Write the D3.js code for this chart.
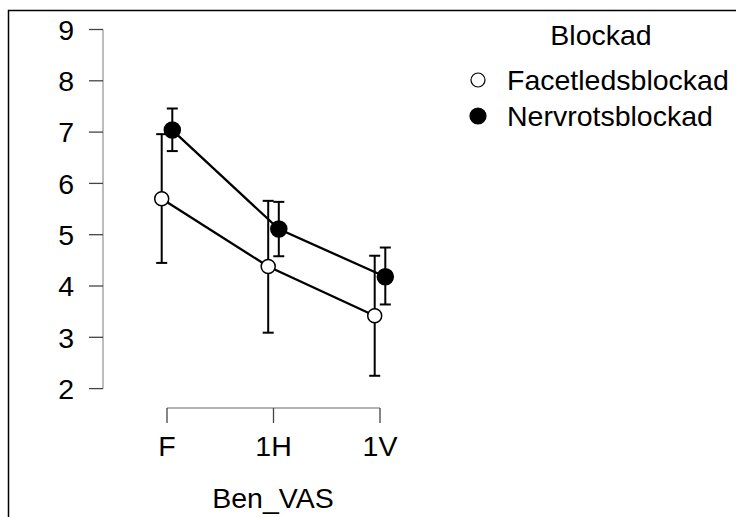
<!DOCTYPE html>
<html>
<head>
<meta charset="utf-8">
<script src="https://cdn.jsdelivr.net/npm/d3@7"></script>
<style>
  body { margin: 0; background: #fff; }
  svg { display: block; font-family: Arial, "Liberation Sans", sans-serif; }
</style>
</head>
<body>
<div id="chart"></div>
<script>
// --- DONNEES ---
const categories = ["F", "1H", "1V"];
const yTicks = [2, 3, 4, 5, 6, 7, 8, 9];
const seriesNames = ["Facetledsblockad", "Nervrotsblockad"];
const facetMean = [5.70, 4.38, 3.42];
const facetLower = [4.45, 3.09, 2.25];
const facetUpper = [6.96, 5.66, 4.59];
const nervMean = [7.04, 5.11, 4.18];
const nervLower = [6.63, 4.58, 3.64];
const nervUpper = [7.46, 5.64, 4.75];

const width = 736, height = 517;
const fontSize = 28.5;

const svg = d3.select("#chart").append("svg")
    .attr("width", width)
    .attr("height", height);

// cadre (seulement haut et gauche visibles)
svg.append("rect")
    .attr("x", 8.5).attr("y", 10.5)
    .attr("width", 760).attr("height", 540)
    .attr("fill", "none")
    .attr("stroke", "#000")
    .attr("stroke-width", 1.5);

const x = d3.scalePoint().domain(categories).range([167, 380]);
const y = d3.scaleLinear().domain([2, 9]).range([388.6, 29.5]);
const dodge = 5.3;

const series = [
    {name: seriesNames[0], mean: facetMean, lo: facetLower, hi: facetUpper, fill: "#fff", dx: -dodge, r: 7},
    {name: seriesNames[1], mean: nervMean, lo: nervLower, hi: nervUpper, fill: "#000", dx: dodge, r: 8}
];

// --- AXE Y ---
const yAxis = svg.append("g");
yAxis.append("line")
    .attr("x1", 103).attr("x2", 103)
    .attr("y1", y(2)).attr("y2", y(9))
    .attr("stroke", "#9a9a9a").attr("stroke-width", 1.3);
yAxis.selectAll(".ytick")
    .data(yTicks)
    .join("line")
    .attr("class", "ytick")
    .attr("x1", 89).attr("x2", 103)
    .attr("y1", d => y(d)).attr("y2", d => y(d))
    .attr("stroke", "#444").attr("stroke-width", 1.3);
yAxis.selectAll(".ylab")
    .data(yTicks)
    .join("text")
    .attr("class", "ylab")
    .attr("x", 74)
    .attr("y", d => y(d))
    .attr("dy", "0.36em")
    .attr("text-anchor", "end")
    .attr("font-size", fontSize)
    .text(d => d);

// --- AXE X ---
const xAxis = svg.append("g");
xAxis.append("line")
    .attr("x1", x(categories[0])).attr("x2", x(categories[categories.length - 1]))
    .attr("y1", 408).attr("y2", 408)
    .attr("stroke", "#9a9a9a").attr("stroke-width", 1.3);
xAxis.selectAll(".xtick")
    .data(categories)
    .join("line")
    .attr("class", "xtick")
    .attr("x1", d => x(d)).attr("x2", d => x(d))
    .attr("y1", 408).attr("y2", 423)
    .attr("stroke", "#444").attr("stroke-width", 1.3);
xAxis.selectAll(".xlab")
    .data(categories)
    .join("text")
    .attr("class", "xlab")
    .attr("x", d => x(d))
    .attr("y", 456)
    .attr("text-anchor", "middle")
    .attr("font-size", fontSize)
    .text(d => d);
svg.append("text")
    .attr("x", 273).attr("y", 508)
    .attr("text-anchor", "middle")
    .attr("font-size", fontSize)
    .text("Ben_VAS");

// --- BARRES D'ERREUR ---
const cap = 5.5;
series.forEach(s => {
    const g = svg.append("g");
    categories.forEach((c, i) => {
        const cx = x(c) + s.dx;
        g.append("line")
            .attr("x1", cx).attr("x2", cx)
            .attr("y1", y(s.lo[i])).attr("y2", y(s.hi[i]))
            .attr("stroke", "#000").attr("stroke-width", 2);
        [s.lo[i], s.hi[i]].forEach(v => {
            g.append("line")
                .attr("x1", cx - cap).attr("x2", cx + cap)
                .attr("y1", y(v)).attr("y2", y(v))
                .attr("stroke", "#000").attr("stroke-width", 2);
        });
    });
});

// --- LIGNES ---
series.forEach(s => {
    svg.append("path")
        .datum(categories.map((c, i) => [x(c) + s.dx, y(s.mean[i])]))
        .attr("fill", "none")
        .attr("stroke", "#000")
        .attr("stroke-width", 2.3)
        .attr("d", d3.line());
});

// --- POINTS ---
series.forEach(s => {
    svg.append("g").selectAll("circle")
        .data(categories)
        .join("circle")
        .attr("cx", (c) => x(c) + s.dx)
        .attr("cy", (c, i) => y(s.mean[i]))
        .attr("r", s.r)
        .attr("fill", s.fill)
        .attr("stroke", "#000")
        .attr("stroke-width", 1.5);
});

// --- LEGENDE ---
const legend = svg.append("g");
legend.append("text")
    .attr("x", 601).attr("y", 45)
    .attr("text-anchor", "middle")
    .attr("font-size", fontSize)
    .text("Blockad");
series.forEach((s, i) => {
    const ly = 80 + i * 36;
    legend.append("circle")
        .attr("cx", 478).attr("cy", ly)
        .attr("r", s.r)
        .attr("fill", s.fill)
        .attr("stroke", "#000")
        .attr("stroke-width", 1.2);
    legend.append("text")
        .attr("x", 507).attr("y", ly)
        .attr("dy", "0.36em")
        .attr("font-size", fontSize)
        .text(s.name);
});
</script>
</body>
</html>
